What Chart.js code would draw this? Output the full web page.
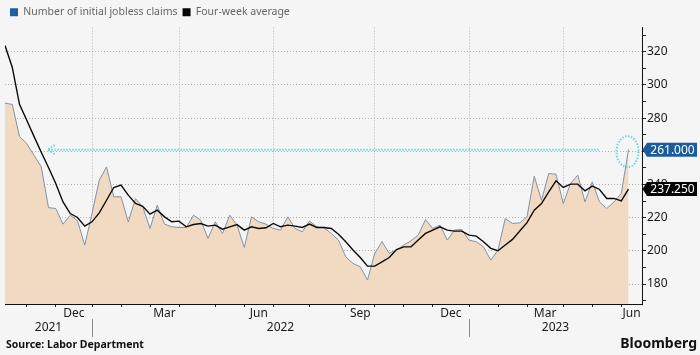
<!DOCTYPE html>
<html>
<head>
<meta charset="utf-8">
<script src="https://cdn.jsdelivr.net/npm/chart.js@4.4.1/dist/chart.umd.min.js"></script>
<style>
html,body{margin:0;padding:0;background:#f5f5f5;}
#wrap{position:relative;width:700px;height:355px;overflow:hidden;background:#f5f5f5;}
#c{position:absolute;left:0;top:0;}
.foot{position:absolute;font-family:'Noto Sans',sans-serif;font-weight:700;color:#111;white-space:nowrap;line-height:1;}
#src{left:6px;top:339px;font-size:10.5px;}
#bbg{right:3px;top:336px;font-size:14px;}
</style>
</head>
<body>
<div id="wrap">
<canvas id="c" width="700" height="355"></canvas>
<div class="foot" id="src">Source: Labor Department</div>
<div class="foot" id="bbg">Bloomberg</div>
</div>
<script>
// ---- DATA (thousands) ----
const weeks = [
 '2021-10-09','2021-10-16','2021-10-23','2021-10-30','2021-11-06','2021-11-13','2021-11-20','2021-11-27',
 '2021-12-04','2021-12-11','2021-12-18','2021-12-25',
 '2022-01-01','2022-01-08','2022-01-15','2022-01-22','2022-01-29','2022-02-05','2022-02-12','2022-02-19','2022-02-26',
 '2022-03-05','2022-03-12','2022-03-19','2022-03-26','2022-04-02','2022-04-09','2022-04-16','2022-04-23','2022-04-30',
 '2022-05-07','2022-05-14','2022-05-21','2022-05-28','2022-06-04','2022-06-11','2022-06-18','2022-06-25',
 '2022-07-02','2022-07-09','2022-07-16','2022-07-23','2022-07-30','2022-08-06','2022-08-13','2022-08-20','2022-08-27',
 '2022-09-03','2022-09-10','2022-09-17','2022-09-24','2022-10-01','2022-10-08','2022-10-15','2022-10-22','2022-10-29',
 '2022-11-05','2022-11-12','2022-11-19','2022-11-26','2022-12-03','2022-12-10','2022-12-17','2022-12-24','2022-12-31',
 '2023-01-07','2023-01-14','2023-01-21','2023-01-28','2023-02-04','2023-02-11','2023-02-18','2023-02-25',
 '2023-03-04','2023-03-11','2023-03-18','2023-03-25','2023-04-01','2023-04-08','2023-04-15','2023-04-22','2023-04-29',
 '2023-05-06','2023-05-13','2023-05-20','2023-05-27','2023-06-03'
];
const claims = [
 289, 288.3, 269, 264.6, 257.6, 250.6, 226.1, 225.5,
 216.1, 221.5, 218.1, 203.5,
 222.5, 242.6, 250.6, 232.6, 232.6, 217.5, 231.5, 226.5, 213.5,
 227.5, 216.1, 214.5, 214.1, 214.1, 221.5, 218.5, 207.5, 217.5,
 210.5, 221.5, 215.5, 202.1, 220.5, 217.5, 216.1, 213.5,
 212.5, 220.5, 213.5, 211.5, 217.9, 214.5, 213.9, 210.5, 206.5,
 196.4, 192.4, 190.4, 182.4, 198.5, 205.5, 198.5, 200.5, 203.5,
 206.1, 209.5, 218.9, 213.5, 215.5, 206.5, 212.5, 212.9, 206.5,
 205.5, 202.4, 194.4, 200.5, 219.5, 216.5, 216.9, 220.5,
 245, 230.5, 246.6, 246.2, 228.5, 240.6, 245.6, 229.5, 241.6,
 229.5, 225.5, 229.5, 234.5, 261
];
const fourWeekAvg = [
 323.8, 310.7, 288.3, 278.7, 269, 259.4, 250.2, 240.6,
 229.5, 222.5, 220.1, 214.9,
 217.5, 222.9, 230.5, 238.2, 239.6, 233.6, 228.6, 226.9, 222.1,
 224.5, 220.5, 217.5, 217.9, 214.5, 215.9, 216.5, 214.9, 215.5,
 213.1, 214.5, 215.8, 212.5, 214.5, 213.5, 213.9, 216.5,
 214.5, 215.5, 214.9, 214.1, 216.1, 214.1, 214.1, 213.5, 210,
 205.5, 200.5, 196, 190.8, 190.8, 193.4, 196.0, 200.8, 202.4,
 202.4, 206.5, 210.5, 212.5, 214.5, 212.5, 211.9, 211.9, 209.5,
 208.9, 205.5, 201.5, 200.1, 203.5, 206.9, 212, 217,
 224.5, 228.5, 235.5, 242.2, 238.2, 240.2, 240.2, 236.2, 239,
 237, 231.6, 231.6, 230.1, 237.25
];
// month boundary tick weeks, quarter grid weeks, labelled months, years
const monthTickWeeks = ['2021-10-30','2021-11-27','2022-01-01','2022-01-29','2022-02-26','2022-03-26','2022-04-30',
 '2022-05-28','2022-06-25','2022-07-30','2022-09-03','2022-10-01','2022-10-29','2022-11-26','2022-12-31',
 '2023-01-28','2023-02-25','2023-04-01','2023-04-29','2023-05-27'];
const gridWeeks = ['2022-01-01','2022-03-26','2022-06-25','2022-10-01','2022-12-31','2023-04-01'];
const monthNames = ['Dec','Mar','Jun','Sep','Dec','Mar','Jun'];
const monthStartWeeks = ['2021-11-27','2022-02-26','2022-05-28','2022-09-03','2022-11-26','2023-02-25','2023-05-27'];
const years = ['2021','2022','2023'];
const yearBreakWeeks = ['2022-01-01','2022-12-31'];
const yTickValues = [170,180,190,200,210,220,230,240,250,260,270,280,290,300,310,320,330];
const seriesNames = ['Number of initial jobless claims','Four-week average'];

// ---- CHART ----
const idx = d => weeks.indexOf(d);
const X_MAX = 87.86;
const tickIdx = monthTickWeeks.map(idx);
const gridSet = new Set(gridWeeks.map(idx));
const FONT = 'Noto Sans';

const xTicksBuilder = (scale) => {
  const t = [];
  tickIdx.forEach(v => t.push({value: v, kind: 'tick', text: ''}));
  monthNames.forEach((n, k) => {
    const a = idx(monthStartWeeks[k]);
    const nxt = tickIdx.find(v => v > a);
    const b = nxt === undefined ? X_MAX : nxt;
    t.push({value: (a + b) / 2, kind: 'label', text: n});
  });
  const bounds = [0, ...yearBreakWeeks.map(idx), X_MAX];
  years.forEach((y, k) => t.push({value: (bounds[k] + bounds[k+1]) / 2, kind: 'label', text: ['', y]}));
  t.sort((a, b) => a.value - b.value);
  scale.ticks = t;
};

function tag(ctx, x, y, text, fill) {
  const h = 14, w = 50, a = 4.5;
  ctx.save();
  ctx.beginPath();
  ctx.moveTo(x, y); ctx.lineTo(x + a, y - h/2); ctx.lineTo(x + a + w, y - h/2);
  ctx.lineTo(x + a + w, y + h/2); ctx.lineTo(x + a, y + h/2); ctx.closePath();
  ctx.fillStyle = fill; ctx.fill();
  ctx.fillStyle = '#ffffff';
  ctx.font = '12px "' + FONT + '"';
  ctx.textAlign = 'center'; ctx.textBaseline = 'middle';
  ctx.fillText(text, x + a + w/2 + 0.5, y + 0.5);
  ctx.restore();
}

const annot = {
  id: 'annot',
  afterDatasetsDraw(chart) {
    const {ctx} = chart; const xs = chart.scales.x, ys = chart.scales.y;
    const last = claims.length - 1;
    const yv = ys.getPixelForValue(claims[last]);
    ctx.save();
    ctx.strokeStyle = '#63d8dc'; ctx.lineWidth = 2; ctx.setLineDash([1.5, 1.5]);
    const x0 = xs.getPixelForValue(5.9), x1 = xs.getPixelForValue(81.9);
    ctx.beginPath(); ctx.moveTo(x1, yv); ctx.lineTo(x0, yv); ctx.stroke();
    ctx.beginPath(); ctx.moveTo(x0 + 7, yv - 4.5); ctx.lineTo(x0, yv); ctx.lineTo(x0 + 7, yv + 4.5); ctx.stroke();
    const cx = xs.getPixelForValue(last) - 1, cy = yv + 2;
    ctx.beginPath(); ctx.ellipse(cx, cy, 11, 15.5, 0, 0, Math.PI * 2); ctx.stroke();
    ctx.restore();
  },
  afterDraw(chart) {
    const {ctx} = chart; const xs = chart.scales.x, ys = chart.scales.y;
    const last = claims.length - 1;
    // year separators
    ctx.save();
    ctx.strokeStyle = '#8a8a8a'; ctx.lineWidth = 1;
    yearBreakWeeks.forEach(w => {
      const px = Math.round(xs.getPixelForValue(idx(w))) + 0.5;
      ctx.beginPath(); ctx.moveTo(px, xs.top + 15); ctx.lineTo(px, xs.top + 33); ctx.stroke();
    });
    ctx.restore();
    const ax = ys.left + 0.5;
    tag(ctx, ax, ys.getPixelForValue(claims[last]), claims[last].toFixed(3), '#1c5c9c');
    tag(ctx, ax, ys.getPixelForValue(fourWeekAvg[last]), fourWeekAvg[last].toFixed(3), '#050505');
  }
};

new Chart(document.getElementById('c'), {
  type: 'line',
  data: {
    datasets: [
      {
        label: seriesNames[0],
        data: claims.map((v, i) => ({x: i, y: v})),
        borderColor: '#7e93aa', borderWidth: 1,
        backgroundColor: '#f2d9c1', fill: 'start',
        pointRadius: 0, tension: 0, order: 2
      },
      {
        label: seriesNames[1],
        data: fourWeekAvg.map((v, i) => ({x: i, y: v})),
        borderColor: '#0a0a0a', borderWidth: 1.4,
        fill: false, pointRadius: 0, tension: 0, order: 1
      }
    ]
  },
  options: {
    responsive: false, animation: false, devicePixelRatio: 1,
    layout: {padding: {left: 5, right: 0, top: 0, bottom: 0}},
    plugins: {
      tooltip: {enabled: false},
      legend: {
        position: 'top', align: 'start',
        title: {display: true, text: '', padding: 0, font: {size: 2, lineHeight: 1}},
        labels: {
          boxWidth: 8, boxHeight: 8, padding: 5,
          color: '#161616', font: {family: FONT, size: 10.5},
          generateLabels: () => [
            {text: seriesNames[0], fillStyle: '#1f5fa6', strokeStyle: '#1f5fa6', lineWidth: 0, datasetIndex: 0},
            {text: seriesNames[1], fillStyle: '#050505', strokeStyle: '#050505', lineWidth: 0, datasetIndex: 1}
          ]
        }
      }
    },
    scales: {
      x: {
        type: 'linear', min: 0, max: X_MAX,
        afterBuildTicks: xTicksBuilder,
        afterFit: s => { s.height = 51; },
        ticks: {
          autoSkip: false, maxRotation: 0, minRotation: 0, padding: -1,
          color: '#1a1a1a', font: {family: FONT, size: 12},
          callback: (v, i, ticks) => ticks[i].text
        },
        grid: {
          color: c => (c.tick && c.tick.kind === 'tick' && gridSet.has(c.tick.value)) ? '#b0b0b0' : 'rgba(0,0,0,0)',
          tickColor: c => (c.tick && c.tick.kind === 'tick') ? '#222' : 'rgba(0,0,0,0)',
          tickLength: 3, lineWidth: 1
        },
        border: {display: true, color: '#111', width: 1, dash: [1, 2]}
      },
      y: {
        type: 'linear', position: 'right', min: 167.97, max: 334.62,
        afterBuildTicks: s => { s.ticks = yTickValues.map(v => ({value: v})); },
        afterFit: s => { s.width = 58; },
        ticks: {
          autoSkip: false, padding: 1, color: '#1a1a1a', font: {family: FONT, size: 12},
          callback: v => (v % 20 === 0 && v >= 180 && v <= 320) ? String(v) : ''
        },
        grid: {
          color: c => (c.tick && c.tick.value % 20 === 0) ? '#b0b0b0' : 'rgba(0,0,0,0)',
          tickColor: '#222', tickLength: 4, lineWidth: 1
        },
        border: {display: true, color: '#111', width: 1, dash: [1, 2]}
      }
    }
  },
  plugins: [annot]
});
</script>
</body>
</html>
